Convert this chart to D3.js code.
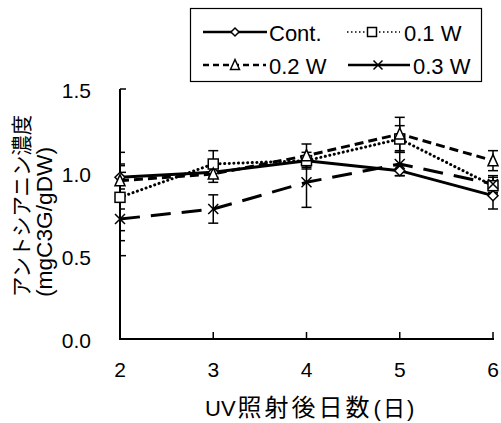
<!DOCTYPE html>
<html><head><meta charset="utf-8">
<script src="https://cdn.jsdelivr.net/npm/d3@7"></script>
<style>
html,body{margin:0;padding:0;background:#fff;}
svg{display:block;}
text{font-family:"Liberation Sans",Arial,"Noto Sans CJK JP",sans-serif;fill:#000;}
</style></head><body>
<svg id="chart" width="501" height="423"></svg>
<script>
const days = [2, 3, 4, 5, 6];
const yTicks = [0, 0.5, 1.0, 1.5];
const seriesNames = ["Cont.", "0.1 W", "0.2 W", "0.3 W"];
const contVals = [0.97, 1.00, 1.07, 1.01, 0.86];
const contErr  = [0.07, 0.03, 0.03, 0.03, 0.08];
const w01Vals  = [0.85, 1.05, 1.07, 1.20, 0.92];
const w01Err   = [0.20, 0.08, 0.05, 0.08, 0.05];
const w02Vals  = [0.95, 0.99, 1.10, 1.23, 1.07];
const w02Err   = [0.17, 0.05, 0.07, 0.10, 0.06];
const w03Vals  = [0.72, 0.78, 0.94, 1.05, 0.93];
const w03Err   = [0.13, 0.085, 0.15, 0.07, 0.05];
const xLabelParts = ["UV", "照射後日数", "(", "日", ")"];
const yLabel1 = "アントシアニン濃度";
const yLabel2 = "(mgC3G/gDW)";

const series = [
  {name: seriesNames[0], vals: contVals, err: contErr, marker: "diamond", dash: null},
  {name: seriesNames[1], vals: w01Vals, err: w01Err, marker: "square", dash: "0.1,4.5"},
  {name: seriesNames[2], vals: w02Vals, err: w02Err, marker: "triangle", dash: "9,5"},
  {name: seriesNames[3], vals: w03Vals, err: w03Err, marker: "cross", dash: "20,11"}
];

const svg = d3.select("#chart");
const x = d3.scaleLinear().domain([2, 6]).range([120, 493]);
const y = d3.scaleLinear().domain([0, 1.5]).range([339, 89]);

svg.append("defs").append("clipPath").attr("id","clip")
  .append("rect").attr("x",120).attr("y",0).attr("width",400).attr("height",423);

// axes
const ax = svg.append("g");
ax.append("line").attr("x1",x(2)).attr("x2",x(2)).attr("y1",y(1.5)).attr("y2",y(0)).attr("stroke","#000").attr("stroke-width",2);
ax.append("line").attr("x1",x(2)-1).attr("x2",x(6)+1).attr("y1",y(0)).attr("y2",y(0)).attr("stroke","#000").attr("stroke-width",2);
yTicks.forEach(t=>{
  ax.append("line").attr("x1",x(2)).attr("x2",x(2)+6).attr("y1",y(t)).attr("y2",y(t)).attr("stroke","#000").attr("stroke-width",1.5);
  ax.append("text").attr("x",91).attr("y",y(t)+2).attr("dy","0.35em").attr("text-anchor","end")
    .attr("font-size",21).text(d3.format(".1f")(t));
});
days.forEach(d=>{
  ax.append("line").attr("x1",x(d)).attr("x2",x(d)).attr("y1",y(0)).attr("y2",y(0)-7).attr("stroke","#000").attr("stroke-width",1.5);
  ax.append("text").attr("x",x(d)).attr("y",370).attr("dy","0.35em").attr("text-anchor","middle")
    .attr("font-size",21).text(d);
});
const xl = svg.append("text").attr("x",205).attr("y",408).attr("dy","0.35em").attr("font-size",22);
xl.append("tspan").text(xLabelParts[0]);
xl.append("tspan").attr("dx",2).attr("font-size",24).attr("letter-spacing",3).text(xLabelParts[1]);
xl.append("tspan").attr("dx",1).text(xLabelParts[2]);
xl.append("tspan").attr("dx",2).text(xLabelParts[3]);
xl.append("tspan").attr("dx",2).text(xLabelParts[4]);
svg.append("text").attr("transform","translate(22,297) rotate(-90)")
  .attr("dy","0.35em").attr("font-size",21).attr("textLength",182).attr("lengthAdjust","spacingAndGlyphs").text(yLabel1);
svg.append("text").attr("transform","translate(44,297) rotate(-90)")
  .attr("dy","0.35em").attr("font-size",22).attr("textLength",150).attr("lengthAdjust","spacingAndGlyphs").text(yLabel2);

function drawMarker(g, type, cx, cy, s) {
  s = s || 5;
  if (type === "diamond") {
    g.append("path").attr("d",`M${cx},${cy-s}L${cx+s},${cy}L${cx},${cy+s}L${cx-s},${cy}Z`)
      .attr("fill","#fff").attr("stroke","#000").attr("stroke-width",1.5);
  } else if (type === "square") {
    g.append("rect").attr("x",cx-s).attr("y",cy-s).attr("width",2*s).attr("height",2*s)
      .attr("fill","#fff").attr("stroke","#000").attr("stroke-width",1.5);
  } else if (type === "triangle") {
    g.append("path").attr("d",`M${cx},${cy-s-1}L${cx+s},${cy+s}L${cx-s},${cy+s}Z`)
      .attr("fill","#fff").attr("stroke","#000").attr("stroke-width",1.5);
  } else {
    g.append("path").attr("d",`M${cx-s},${cy-s}L${cx+s},${cy+s}M${cx-s},${cy+s}L${cx+s},${cy-s}`)
      .attr("fill","none").attr("stroke","#000").attr("stroke-width",1.5);
  }
}

const plot = svg.append("g").attr("clip-path","url(#clip)");
// error bars
series.forEach(s=>{
  days.forEach((d,i)=>{
    const cx = x(d), top = y(s.vals[i]+s.err[i]), bot = y(s.vals[i]-s.err[i]);
    plot.append("line").attr("x1",cx).attr("x2",cx).attr("y1",top).attr("y2",bot).attr("stroke","#000").attr("stroke-width",1.5);
    [top,bot].forEach(v=>plot.append("line").attr("x1",cx-5).attr("x2",cx+5).attr("y1",v).attr("y2",v).attr("stroke","#000").attr("stroke-width",1.5));
  });
});
const line = d3.line().x((d,i)=>x(days[i])).y(d=>y(d));
series.forEach(s=>{
  const p = plot.append("path").datum(s.vals).attr("d",line).attr("fill","none").attr("stroke","#000")
    .attr("stroke-width",3);
  if (s.dash) p.attr("stroke-dasharray",s.dash);
  if (s.marker==="square") p.attr("stroke-linecap","round");
});
series.forEach(s=>{
  days.forEach((d,i)=>drawMarker(svg, s.marker, x(d), y(s.vals[i])));
});

// legend
const lg = svg.append("g");
lg.append("rect").attr("x",190.5).attr("y",8.5).attr("width",291).attr("height",73)
  .attr("fill","#fff").attr("stroke","#000").attr("stroke-width",1.2);
const legPos = [
  {x1:203,x2:267,mx:235,tx:269,y:32},
  {x1:347,x2:400,mx:372,tx:404,y:32},
  {x1:203,x2:266,mx:235,tx:269,y:65},
  {x1:348,x2:410,mx:378,tx:413,y:65}
];
series.forEach((s,i)=>{
  const p = legPos[i];
  const l = lg.append("line").attr("x1",p.x1).attr("x2",p.x2).attr("y1",p.y).attr("y2",p.y)
    .attr("stroke","#000").attr("stroke-width",i===1?1.5:2.5);
  if (i===1) l.attr("stroke-dasharray","1.5,2.5");
  if (i===2) l.attr("stroke-dasharray","6,4");
  drawMarker(lg, s.marker, p.mx, p.y, i===0?4:4.5);
  lg.append("text").attr("x",p.tx).attr("y",p.y+1).attr("dy","0.35em").attr("font-size",22).text(s.name);
});
</script></body></html>
